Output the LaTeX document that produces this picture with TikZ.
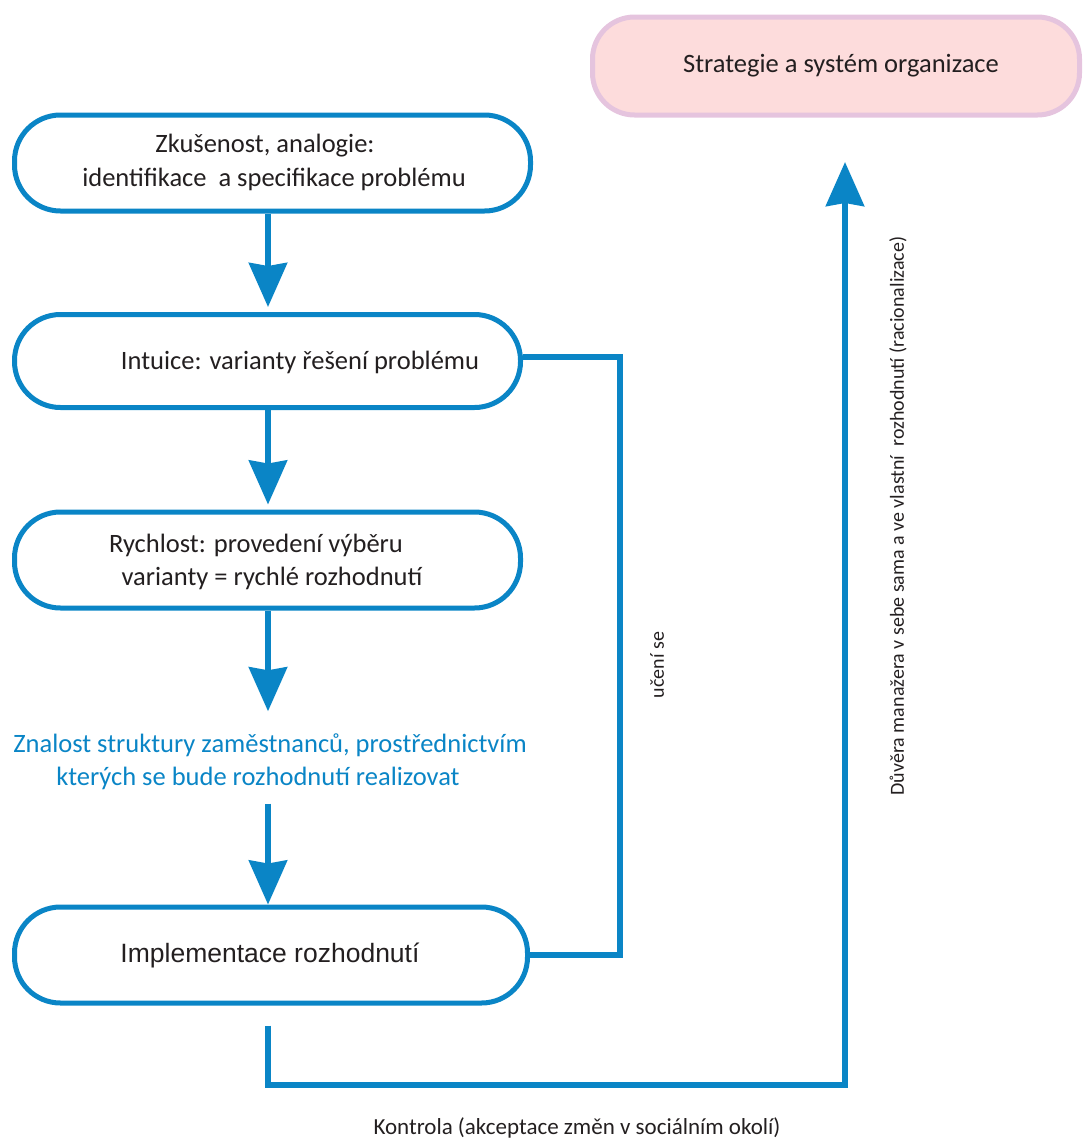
\documentclass[tikz,border=0pt]{standalone}
\usepackage{fontspec}
\setmainfont{Carlito}
\newfontfamily\arialf{Liberation Sans}
\usetikzlibrary{arrows.meta}
\definecolor{bl}{HTML}{0A85C6}
\definecolor{pinkfill}{HTML}{FDDCDC}
\definecolor{pinkline}{HTML}{E5C4DE}
\definecolor{txt}{HTML}{231F20}
\begin{document}
\begin{tikzpicture}[x=1pt,y=-1pt,
  every node/.style={text=txt, font=\fontsize{26.5}{33}\selectfont, align=center},
  box/.style={draw=bl, line width=5pt, rounded corners=46pt, fill=white, minimum height=96pt, minimum width=#1, inner sep=0pt},
  conn/.style={draw=bl, line width=6pt},
  arr/.style={conn, -{Stealth[length=44pt,width=38pt,inset=3pt]}},
  plain/.style={inner sep=0pt}
]
\useasboundingbox (0,0) rectangle (1085,1146);
% top pink box
\node[draw=pinkline, fill=pinkfill, line width=5pt, rounded corners=42pt,
      minimum width=487pt, minimum height=98pt, inner sep=0pt] (strat) at (836,66) {};
\node[plain] (st) at (841,66) {Strategie a systém organizace};
% left boxes
\node[box=516pt] (b1) at (272.5,163) {};
\node[plain] (t1a) at (265,146) {Zkušenost, analogie:};
\node[plain] (t1b) at (274,179) {identifikace\ \ a specifikace problému};
\node[box=506pt, minimum height=93pt] (b2) at (267.5,361) {};
\node[plain] (t2) at (300,362) {Intuice: varianty řešení problému};
\node[box=506pt] (b3) at (267.5,560) {};
\node[plain] (t3a) at (256,545) {Rychlost: provedení výběru};
\node[plain] (t3b) at (272,578) {varianty = rychlé rozhodnutí};
\node[plain, text=bl] (know) at (270,745) {Znalost struktury zaměstnanců, prostřednictvím};
\node[plain, text=bl] (know2) at (258,778) {kterých se bude rozhodnutí realizovat};
\node[box=513pt] (b5) at (271,955) {};
\node[plain, font=\arialf\fontsize{26.5}{30}\selectfont] (t5) at (270,955) {Implementace rozhodnutí};
% vertical arrows
\draw[arr, shorten >=5pt] (b1.south -| 268,0) -- (b2.north -| 268,0);
\draw[arr, shorten >=5pt] (b2.south -| 268,0) -- (b3.north -| 268,0);
\draw[arr, shorten >=22pt] (b3.south -| 268,0) -- (know.north -| 268,0);
\draw[arr, shorten <=14pt] (know2.south -| 268,0) -- (b5.north -| 268,0);
% learning loop
\coordinate (fb) at (620,357);
\draw[conn] (b2.east |- fb) -- (fb) -- (b5.east -| fb) -- (b5.east);
\node[plain, rotate=90, font=\fontsize{20}{24}\selectfont] (learn) at (657,665) {učení se};
% control / trust path
\coordinate (cb) at (268,1085);
\coordinate (tip) at (845,162);
\draw[arr] ([yshift=-20pt]b5.south -| cb) -- (cb) -| (tip);
\node[plain, rotate=90, font=\fontsize{20}{24}\selectfont] (trust) at (898,516) {Důvěra manažera v sebe sama a ve vlastní\ \ rozhodnutí (racionalizace)};
\node[plain, font=\fontsize{23}{28}\selectfont] (ctrl) at (577,1128) {Kontrola (akceptace změn v sociálním okolí)};
\end{tikzpicture}
\end{document}
